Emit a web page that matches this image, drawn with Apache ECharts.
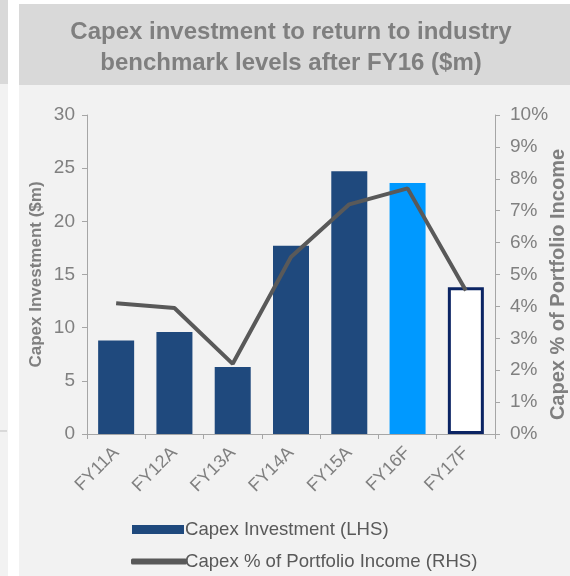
<!DOCTYPE html>
<html>
<head>
<meta charset="utf-8">
<script src="https://cdn.jsdelivr.net/npm/echarts@6/dist/echarts.min.js"></script>
<style>
  html, body { margin: 0; padding: 0; background: #ffffff; }
  #chart { width: 570px; height: 576px; }
</style>
</head>
<body>
<div id="chart"></div>
<script>
// categories and values
var years = ['FY11A', 'FY12A', 'FY13A', 'FY14A', 'FY15A', 'FY16F', 'FY17F'];
var capex = [8.8, 9.6, 6.3, 17.7, 24.7, 23.6, 13.8];
var capexPct = [4.1, 3.95, 2.2, 5.55, 7.2, 7.7, 4.5];
var leftTicks = [0, 5, 10, 15, 20, 25, 30];
var rightTicks = [0, 1, 2, 3, 4, 5, 6, 7, 8, 9, 10];

var font = '"Liberation Sans", Arial, sans-serif';
var grey = '#808080';

// bar colours: actuals dark blue, FY16F light blue, FY17F outlined
var barData = capex.map(function (v, i) {
    if (i === 5) return { value: v, itemStyle: { color: '#0099ff' } };
    if (i === 6) return { value: v, itemStyle: { color: '#ffffff', borderColor: '#0b2463', borderWidth: 3 } };
    return v;
});

var chart = echarts.init(document.getElementById('chart'));
var option = {
    animation: false,
    textStyle: { fontFamily: font },
    graphic: [
        { type: 'rect', z: -10, shape: { x: 0, y: 0, width: 8, height: 576 }, style: { fill: '#f2f2f2' } },
        { type: 'rect', z: -9, shape: { x: 0, y: 0, width: 8, height: 84 }, style: { fill: '#d9d9d9' } },
        { type: 'rect', z: -10, shape: { x: 19, y: 4, width: 551, height: 572 }, style: { fill: '#f2f2f2' } },
        { type: 'rect', z: -9, shape: { x: 19, y: 4, width: 551, height: 81 }, style: { fill: '#d9d9d9' } },
        { type: 'line', z: -8, shape: { x1: 0, y1: 431, x2: 7, y2: 431 }, style: { stroke: '#bfbfbf', lineWidth: 1 } },
        {
            type: 'text', z: 10, x: 291, y: 17,
            style: {
                text: 'Capex investment to return to industry\nbenchmark levels after FY16 ($m)',
                fill: '#7f7f7f', font: 'bold 24px ' + font, align: 'center', lineHeight: 31
            }
        }
    ],
    legend: [{
        orient: 'vertical', left: 127, top: 515,
        itemWidth: 52, itemHeight: 9,
        icon: 'rect',
        data: ['Capex Investment (LHS)'],
        textStyle: { color: '#595959', fontSize: 18.6, fontFamily: font, padding: [0, 0, 0, -4] }
    }, {
        orient: 'vertical', left: 126, top: 547,
        itemWidth: 56, itemHeight: 6,
        icon: 'roundRect',
        data: ['Capex % of Portfolio Income (RHS)'],
        textStyle: { color: '#595959', fontSize: 18.6, fontFamily: font, padding: [0, 0, 0, -7] }
    }],
    grid: { left: 87, right: 75, top: 115, bottom: 142, outerBoundsMode: 'none' },
    xAxis: {
        type: 'category',
        data: years,
        axisLine: { lineStyle: { color: '#a6a6a6' } },
        axisTick: { show: true, length: 5, lineStyle: { color: '#a6a6a6' } },
        axisLabel: { rotate: 45, color: grey, fontSize: 18, fontFamily: font, margin: 16 }
    },
    yAxis: [{
        type: 'value', min: 0, max: 30, interval: 5,
        name: 'Capex Investment ($m)', nameLocation: 'middle', nameGap: 42, nameRotate: 90,
        nameMoveOverlap: false,
        nameTextStyle: { color: '#7f7f7f', fontSize: 17, fontWeight: 'bold', fontFamily: font },
        axisLine: { show: true, lineStyle: { color: '#a6a6a6' } },
        axisTick: { show: true, length: 5, lineStyle: { color: '#a6a6a6' } },
        axisLabel: { color: grey, fontSize: 19, fontFamily: font, margin: 12,
            formatter: function (v) { return leftTicks.indexOf(v) >= 0 ? String(v) : ''; } },
        splitLine: { show: false }
    }, {
        type: 'value', min: 0, max: 10, interval: 1, position: 'right',
        name: 'Capex % of Portfolio Income', nameLocation: 'middle', nameGap: 53, nameRotate: 90,
        nameMoveOverlap: false,
        nameTextStyle: { color: '#7f7f7f', fontSize: 20, fontWeight: 'bold', fontFamily: font,
            padding: [0, 20, 0, 0] },
        axisLine: { show: true, lineStyle: { color: '#a6a6a6' } },
        axisTick: { show: true, length: 5, lineStyle: { color: '#a6a6a6' } },
        axisLabel: { color: grey, fontSize: 19, fontFamily: font, margin: 15,
            formatter: function (v) { return rightTicks.indexOf(v) >= 0 ? v + '%' : ''; } },
        splitLine: { show: false }
    }],
    series: [{
        name: 'Capex Investment (LHS)',
        type: 'bar',
        yAxisIndex: 0,
        barWidth: 36,
        itemStyle: { color: '#1f497d' },
        data: barData
    }, {
        name: 'Capex % of Portfolio Income (RHS)',
        type: 'line',
        yAxisIndex: 1,
        showSymbol: false,
        symbol: 'none',
        z: 5,
        lineStyle: { color: '#595959', width: 4 },
        itemStyle: { color: '#595959' },
        data: capexPct
    }]
};
chart.setOption(option);
</script>
</body>
</html>
